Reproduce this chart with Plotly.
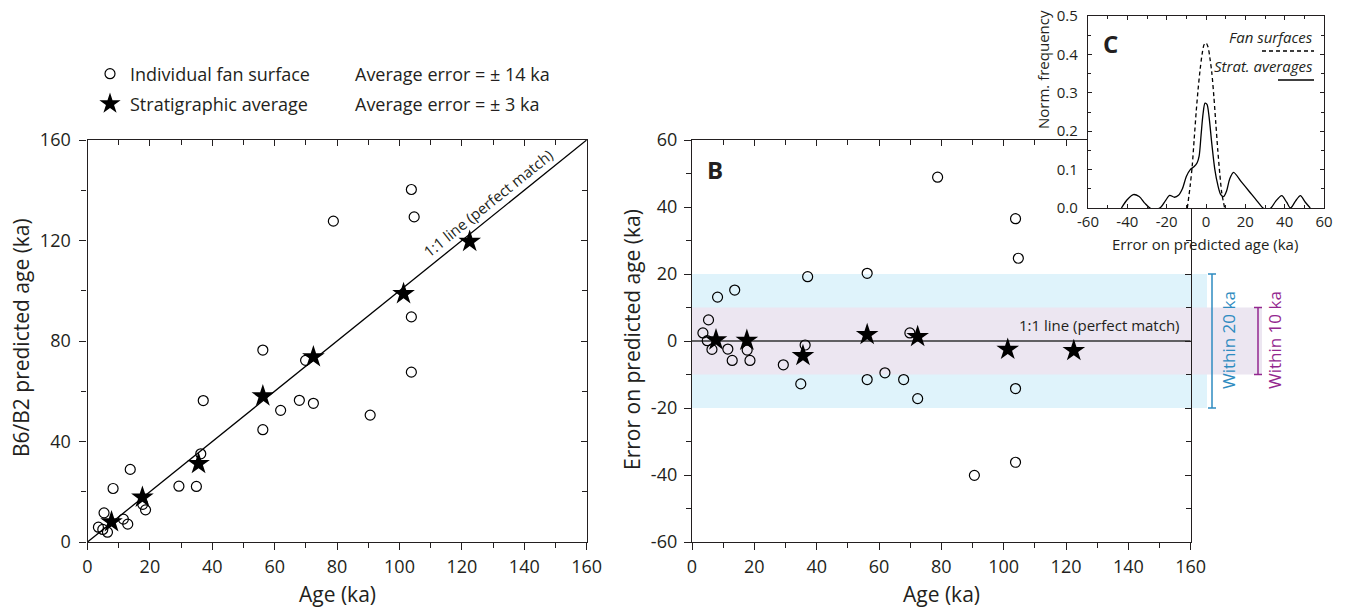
import plotly.graph_objects as go

W, H = 1346, 610
FONT = "Open Sans"
INK = "#231f20"

# Individual fan surfaces: exposure age and B6/B2-predicted age (ka)
fan_age = [97.2, 103.8, 104.7, 78.8, 103.8, 103.8, 56.2, 69.9, 67.9, 72.4, 61.9, 90.6, 56.2, 37.1,
           36.3, 29.3, 34.9, 13.7, 8.2, 17.7, 18.6, 5.3, 11.5, 12.9, 3.5, 4.9, 6.4]
fan_pred = [160.3, 140.3, 129.4, 127.7, 89.6, 67.6, 76.4, 72.3, 56.4, 55.2, 52.4, 50.5, 44.7, 56.3,
            35.1, 22.2, 22.1, 28.9, 21.3, 15.0, 12.8, 11.6, 9.1, 7.1, 5.9, 5.0, 3.9]

# Stratigraphic averages
strat_age = [7.7, 17.6, 35.6, 56.2, 72.4, 101.3, 122.5]
strat_pred = [8.0, 17.8, 31.2, 58.1, 73.7, 98.8, 119.6]

fan_err = [p - a for a, p in zip(fan_age, fan_pred)]
strat_err = [p - a for a, p in zip(strat_age, strat_pred)]

one_to_one = [0, 160]
zero_err = [0, 0]

# Error distributions (normalised frequency)
fan_dist_x = [-9.5, -8, -7, -6, -5, -4, -3, -2, -1, 0, 1, 2, 3, 4, 5, 6, 7, 8, 9.5]
fan_dist_y = [0.0, 0.06, 0.11, 0.18, 0.25, 0.31, 0.36, 0.40, 0.425, 0.43, 0.42, 0.39, 0.35, 0.29,
              0.22, 0.15, 0.09, 0.04, 0.0]
strat_dist_x = [-43, -40, -37, -34, -31, -28.5, -26, -23, -20.5, -18.5, -16, -14, -12, -10, -8, -6,
                -4.5, -3.5, -2.5, -1.5, -0.5, 0.5, 1.5, 3, 4.5, 6, 7.5, 9, 10.5, 12, 14, 18, 22, 26,
                29, 31, 33, 35.5, 38.5, 41, 43, 45.5, 48, 50.5, 53]
strat_dist_y = [0, 0.022, 0.035, 0.03, 0.012, 0.0, -0.004, 0.002, 0.02, 0.033, 0.028, 0.033, 0.05,
                0.082, 0.1, 0.108, 0.118, 0.135, 0.19, 0.245, 0.273, 0.27, 0.24, 0.165, 0.1, 0.06,
                0.035, 0.03, 0.045, 0.075, 0.093, 0.068, 0.043, 0.018, 0.0, -0.004, 0.0, 0.018,
                0.032, 0.015, 0.0, 0.018, 0.032, 0.015, 0.0]

age_ticks = [0, 20, 40, 60, 80, 100, 120, 140, 160]
pred_ticks = [0, 40, 80, 120, 160]
err_ticks = [-60, -40, -20, 0, 20, 40, 60]
dist_x_ticks = [-60, -40, -20, 0, 20, 40, 60]
dist_y_ticks = [0, 0.1, 0.2, 0.3, 0.4, 0.5]


def labels(vals, fmt="{:g}"):
    # plain hyphen for negatives
    return [fmt.format(v) for v in vals]


def px(x):
    return x / W


def py(y):
    return 1 - y / H


# panel frames in pixels
A_X = (87.5, 586.7)
B_X = (692.0, 1190.7)
AB_Y = (140.0, 542.0)
C_X = (1088.0, 1324.0)
C_Y = (16.0, 208.0)

fig = go.Figure()

circle = dict(symbol="circle-open", size=10, color="black", line=dict(width=1.2, color="black"))
star = dict(symbol="star", size=17, color="black", line=dict(width=0))

# Panel A
fig.add_trace(go.Scatter(x=one_to_one, y=one_to_one, mode="lines", line=dict(color="black", width=1.3),
                         xaxis="x", yaxis="y", showlegend=False, hoverinfo="skip"))
fig.add_trace(go.Scatter(x=fan_age, y=fan_pred, mode="markers", marker=circle, cliponaxis=False,
                         xaxis="x", yaxis="y", name="Individual fan surface", legend="legend"))
fig.add_trace(go.Scatter(x=strat_age, y=strat_pred, mode="markers", marker=star, cliponaxis=False,
                         xaxis="x", yaxis="y", name="Stratigraphic average", legend="legend2"))

# Panel B
fig.add_trace(go.Scatter(x=one_to_one, y=zero_err, mode="lines", line=dict(color="#333333", width=1.3),
                         xaxis="x2", yaxis="y2", showlegend=False, hoverinfo="skip"))
fig.add_trace(go.Scatter(x=fan_age, y=fan_err, mode="markers", marker=circle,
                         xaxis="x2", yaxis="y2", showlegend=False))
fig.add_trace(go.Scatter(x=strat_age, y=strat_err, mode="markers", marker=star,
                         xaxis="x2", yaxis="y2", showlegend=False))

# Panel C (inset)
fig.add_trace(go.Scatter(x=fan_dist_x, y=fan_dist_y, mode="lines",
                         line=dict(color="black", width=1.3, dash="4px,3px", shape="spline", smoothing=0.8),
                         xaxis="x3", yaxis="y3", showlegend=False))
fig.add_trace(go.Scatter(x=strat_dist_x, y=strat_dist_y, mode="lines",
                         line=dict(color="black", width=1.3, shape="spline", smoothing=0.8),
                         xaxis="x3", yaxis="y3", showlegend=False))

# empty traces that carry the tick-only top/right axes
for xa, ya in [("x4", "y"), ("x", "y4"), ("x5", "y2"), ("x2", "y5")]:
    fig.add_trace(go.Scatter(x=[], y=[], xaxis=xa, yaxis=ya, showlegend=False, hoverinfo="skip"))

tickfont = dict(family=FONT, size=18, color=INK)


def main_axis(domain, rng, tickvals, minor_dtick, anchor, standoff):
    return dict(domain=domain, range=rng, tickvals=tickvals, ticktext=labels(tickvals),
                ticks="outside", ticklen=7, tickwidth=1.2, ticklabelstandoff=standoff,
                tickcolor=INK, showline=True, linecolor=INK, linewidth=1.3, mirror=True,
                showgrid=False, zeroline=False, tickfont=tickfont, anchor=anchor,
                minor=dict(dtick=minor_dtick, tick0=0, ticks="outside", ticklen=5, tickwidth=1.2,
                           tickcolor=INK, showgrid=False))


def tick_axis(over, anchor, side, rng, tickvals, minor_dtick):
    return dict(overlaying=over, anchor=anchor, side=side, range=rng, tickvals=tickvals,
                ticks="inside", ticklen=6, tickwidth=1.2, tickcolor=INK, showticklabels=False,
                showline=False, showgrid=False, zeroline=False,
                minor=dict(dtick=minor_dtick, tick0=0, ticks="inside", ticklen=5, tickwidth=1.2,
                           tickcolor=INK, showgrid=False))


a_dom = [px(A_X[0]), px(A_X[1])]
b_dom = [px(B_X[0]), px(B_X[1])]
y_dom = [py(AB_Y[1]), py(AB_Y[0])]
inset_font = dict(family=FONT, size=15, color=INK)

fig.update_layout(
    xaxis=main_axis(a_dom, [0, 160], age_ticks, 10, "y", 1),
    yaxis=main_axis(y_dom, [0, 160], pred_ticks, 20, "x", 5),
    xaxis2=main_axis(b_dom, [0, 160], age_ticks, 10, "y2", 1),
    yaxis2=main_axis(y_dom, [-60, 60], err_ticks, 10, "x2", 3),
    xaxis4=tick_axis("x", "y", "top", [0, 160], age_ticks, 10),
    yaxis4=tick_axis("y", "x", "right", [0, 160], pred_ticks, 20),
    xaxis5=tick_axis("x2", "y2", "top", [0, 160], age_ticks, 10),
    yaxis5=tick_axis("y2", "x2", "right", [-60, 60], err_ticks, 10),
    xaxis3=dict(domain=[px(C_X[0]), px(C_X[1])], range=[-60, 60], tickvals=dist_x_ticks,
                ticktext=labels(dist_x_ticks),
                ticks="inside", ticklen=4, tickcolor=INK, showline=True, linecolor=INK, linewidth=1.2,
                mirror="ticks", showgrid=False, zeroline=False, anchor="y3", tickfont=inset_font,
                minor=dict(dtick=10, tick0=0, ticks="inside", ticklen=3, tickcolor=INK, showgrid=False)),
    yaxis3=dict(domain=[py(C_Y[1]), py(C_Y[0])], range=[0, 0.5], tickvals=dist_y_ticks,
                ticktext=labels(dist_y_ticks, "{:.1f}"), ticklabelstandoff=6,
                ticks="inside", ticklen=4, tickcolor=INK, showline=True, linecolor=INK,
                linewidth=1.2, mirror="ticks", showgrid=False, zeroline=False, anchor="x3",
                tickfont=inset_font,
                minor=dict(dtick=0.05, tick0=0, ticks="inside", ticklen=3, tickcolor=INK, showgrid=False)),
)

legend_common = dict(font=dict(family=FONT, size=18, color=INK), bgcolor="rgba(0,0,0,0)",
                     xanchor="left", yanchor="middle", itemsizing="trace")
fig.update_layout(
    legend=dict(x=px(90), y=py(74), **legend_common),
    legend2=dict(x=px(90), y=py(104), **legend_common),
)

ann = []


def text(x, y, s, size=18, color=INK, xanchor="center", yanchor="middle", angle=0, **kw):
    ann.append(dict(x=px(x), y=py(y), xref="paper", yref="paper", text=s, showarrow=False,
                    xanchor=xanchor, yanchor=yanchor, textangle=angle,
                    font=dict(family=FONT, size=size, color=color), **kw))


text(353, 74, "Average error = ± 14 ka", xanchor="left")
text(353, 104, "Average error = ± 3 ka", xanchor="left")

text(337, 594, "Age (ka)", size=21)
text(941, 594, "Age (ka)", size=21)
text(21, 338, "B6/B2 predicted age (ka)", size=21, angle=-90)
text(632, 340, "Error on predicted age (ka)", size=21, angle=-90)

# 1:1 label along the diagonal of panel A
ann.append(dict(x=128.4, y=128.4, xref="x", yref="y", text="1:1 line (perfect match)", showarrow=False,
                textangle=-38.85, yshift=16, font=dict(family=FONT, size=15, color=INK)))
text(1182, 325, "1:1 line (perfect match)", size=15, xanchor="right")

text(715, 170, "<b>B</b>", size=24)
text(1110, 43, "<b>C</b>", size=24)

text(1315, 37, "<i>Fan surfaces</i>", size=15, xanchor="right")
text(1315, 66, "<i>Strat. averages</i>", size=15, xanchor="right")
text(1043, 70, "Norm. frequency", size=15, angle=-90)
text(1205, 244, "Error on predicted age (ka)", size=15)

text(1229, 340, "Within 20 ka", size=17, color="#2e8bc0", angle=-90)
text(1275, 340, "Within 10 ka", size=17, color="#93278f", angle=-90)

fig.update_layout(annotations=ann)

shapes = []
# tolerance bands in panel B
shapes.append(dict(type="rect", xref="paper", yref="y2", x0=px(B_X[0]), x1=px(1207), y0=-20, y1=20,
                   fillcolor="#dff3fb", line=dict(width=0), layer="below"))
shapes.append(dict(type="rect", xref="paper", yref="y2", x0=px(B_X[0]), x1=px(1262), y0=-10, y1=10,
                   fillcolor="#ece6f1", line=dict(width=0), layer="below"))


def bracket(xc, half, y0, y1, color):
    shapes.append(dict(type="line", xref="paper", yref="y2", x0=px(xc), x1=px(xc), y0=y0, y1=y1,
                       line=dict(color=color, width=1.5)))
    for yy in (y0, y1):
        shapes.append(dict(type="line", xref="paper", yref="y2", x0=px(xc - half), x1=px(xc + half),
                           y0=yy, y1=yy, line=dict(color=color, width=1.5)))


bracket(1212, 4, -20, 20, "#2e8bc0")
bracket(1258, 4, -10, 10, "#93278f")

# inset key lines
shapes.append(dict(type="line", xref="paper", yref="paper", x0=px(1262), x1=px(1314), y0=py(51), y1=py(51),
                   line=dict(color="black", width=1.3, dash="4px,3px")))
shapes.append(dict(type="line", xref="paper", yref="paper", x0=px(1278), x1=px(1314), y0=py(80), y1=py(80),
                   line=dict(color="black", width=1.3)))

fig.update_layout(shapes=shapes)

fig.update_layout(width=W, height=H, margin=dict(l=0, r=0, t=0, b=0, autoexpand=False),
                  paper_bgcolor="white", plot_bgcolor="white",
                  font=dict(family=FONT, color=INK))

fig.write_html("out.html")
